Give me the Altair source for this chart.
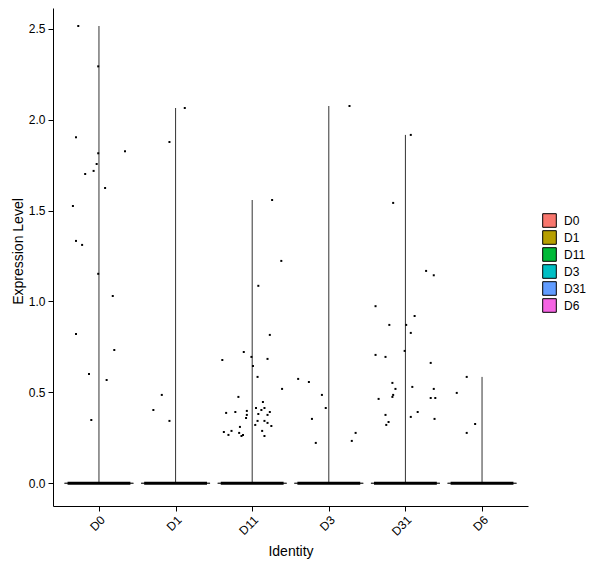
import altair as alt
import pandas as pd

groups = ["D0", "D1", "D11", "D3", "D31", "D6"]
colors = ["#F8766D", "#B79F00", "#00BA38", "#00BFC4", "#619CFF", "#F564E3"]

# non-zero expression values per identity, with their horizontal jitter (in category units)
d0_values = [2.515, 2.293, 1.903, 1.815, 1.826, 1.756, 1.718, 1.701, 1.624, 1.525,
             1.333, 1.311, 1.152, 1.030, 0.821, 0.733, 0.601, 0.568, 0.348]
d0_jitter = [-0.27, -0.01, -0.30, -0.01, 0.34, -0.03, -0.07, -0.18, 0.08, -0.34,
             -0.30, -0.22, -0.01, 0.18, -0.30, 0.20, -0.13, 0.10, -0.10]

d1_values = [2.064, 1.877, 0.486, 0.403, 0.343]
d1_jitter = [0.12, -0.08, -0.18, -0.29, -0.08]

d11_values = [1.558, 1.223, 1.086, 0.816, 0.722, 0.678, 0.695, 0.645, 0.684, 0.585,
              0.519, 0.475, 0.447, 0.414, 0.403, 0.414, 0.398, 0.387, 0.392, 0.392,
              0.376, 0.381, 0.376, 0.359, 0.343, 0.343, 0.332, 0.315, 0.321, 0.310,
              0.288, 0.288, 0.282, 0.277, 0.266, 0.266, 0.260, 0.260]
d11_jitter = [0.26, 0.38, 0.08, 0.23, -0.11, -0.39, -0.01, 0.01, 0.20, 0.07,
              0.39, -0.18, 0.14, 0.05, 0.12, 0.16, -0.07, -0.34, -0.22, 0.23,
              -0.07, 0.08, 0.20, -0.08, 0.07, 0.16, 0.20, 0.25, 0.04, -0.16,
              0.13, -0.27, -0.37, -0.17, -0.31, -0.12, -0.14, 0.16]

d3_values = [2.075, 0.574, 0.557, 0.486, 0.414, 0.354, 0.222, 0.277, 0.233]
d3_jitter = [0.27, -0.40, -0.26, -0.09, -0.04, -0.22, -0.17, 0.35, 0.30]

d31_values = [1.916, 1.542, 1.168, 1.144, 0.974, 0.920, 0.871, 0.871, 0.827, 0.728,
              0.706, 0.695, 0.662, 0.552, 0.519, 0.530, 0.519, 0.486, 0.475, 0.464,
              0.469, 0.469, 0.392, 0.365, 0.354, 0.376, 0.337, 0.321]
d31_jitter = [0.07, -0.16, 0.27, 0.37, -0.39, 0.12, -0.21, 0.01, 0.07, -0.01,
              -0.39, -0.26, 0.33, -0.17, -0.13, 0.09, 0.37, -0.16, -0.17, -0.35,
              0.33, 0.39, 0.16, 0.07, 0.38, -0.26, -0.22, -0.25]

d6_values = [0.497, 0.585, 0.326, 0.277]
d6_jitter = [-0.33, -0.20, -0.09, -0.20]

all_values = [d0_values, d1_values, d11_values, d3_values, d31_values, d6_values]
all_jitter = [d0_jitter, d1_jitter, d11_jitter, d3_jitter, d31_jitter, d6_jitter]

rows = []
for i, (g, vals, jit) in enumerate(zip(groups, all_values, all_jitter)):
    for v, j in zip(vals, jit):
        rows.append({"ident": g, "idx": i + 1, "jitter": j, "value": v})
points_df = pd.DataFrame(rows)

groups_df = pd.DataFrame({"ident": groups, "idx": list(range(1, len(groups) + 1)), "zero": 0.0})

VIOLIN_HALF = 0.45
JITTER_HALF = 0.41
FONT = "Liberation Sans"

label_expr = "[" + ",".join("'%s'" % g for g in groups) + "][datum.value - 1]"

x_scale = alt.Scale(domain=[0.4, 6.6], nice=False, zero=False)
y_scale = alt.Scale(domain=[-0.125, 2.614], nice=False, zero=False)

x_axis = alt.Axis(values=list(range(1, len(groups) + 1)), labelExpr=label_expr,
                  labelAngle=315, labelAlign="right", labelBaseline="top", labelPadding=3,
                  title="Identity", titleX=237.5, titleY=49, titleBaseline="alphabetic",
                  titleAlign="center", grid=False, tickSize=5)
y_axis = alt.Axis(values=[0, 0.5, 1.0, 1.5, 2.0, 2.5], format=".1f",
                  title="Expression Level", titleX=-31, titleY=243, titleAngle=270,
                  titleBaseline="alphabetic", titleAlign="center", grid=False,
                  tickSize=5, labelPadding=3)

base_g = alt.Chart(groups_df)

violin_base = base_g.mark_rect(stroke="#333333", strokeWidth=1).transform_calculate(
    x1="datum.idx - %f" % VIOLIN_HALF, x2="datum.idx + %f" % VIOLIN_HALF
).encode(
    x=alt.X("x1:Q", scale=x_scale, axis=x_axis),
    x2="x2:Q",
    y=alt.Y("zero:Q", scale=y_scale, axis=y_axis),
    y2="zero:Q",
    color=alt.Color("ident:N", scale=alt.Scale(domain=groups, range=colors),
                    legend=alt.Legend(title=None, orient="none", legendX=489, legendY=205,
                                      symbolType="square", symbolSize=185,
                                      symbolStrokeColor="black", symbolStrokeWidth=1,
                                      symbolOpacity=1,
                                      labelFontSize=12, labelFont=FONT, labelColor="black",
                                      labelOffset=7, rowPadding=-3.7, padding=0)),
)

vlines = alt.Chart(points_df).transform_aggregate(
    vmax="max(value)", groupby=["ident", "idx"]
).transform_calculate(zero="0").mark_rule(color="#333333", strokeWidth=1).encode(
    x=alt.X("idx:Q", scale=x_scale),
    y=alt.Y("zero:Q", scale=y_scale),
    y2="vmax:Q",
)

zero_band = base_g.mark_rule(color="black", strokeWidth=3).transform_calculate(
    x1="datum.idx - %f" % JITTER_HALF, x2="datum.idx + %f" % JITTER_HALF
).encode(
    x=alt.X("x1:Q", scale=x_scale),
    x2="x2:Q",
    y=alt.Y("zero:Q", scale=y_scale),
)

pts = alt.Chart(points_df).transform_calculate(
    xj="datum.idx + datum.jitter"
).mark_square(color="black", size=4, opacity=1).encode(
    x=alt.X("xj:Q", scale=x_scale),
    y=alt.Y("value:Q", scale=y_scale),
)

chart = alt.layer(violin_base, vlines, zero_band, pts).properties(
    width=475, height=498,
    autosize=alt.AutoSizeParams(type="none"),
    padding={"left": 45, "top": 0, "right": 60, "bottom": 56},
).configure_view(stroke=None).configure_axis(
    domainColor="black", domainWidth=1, tickColor="black", tickWidth=1,
    labelColor="black", titleColor="black", labelFont=FONT, titleFont=FONT,
    labelFontSize=12, titleFontSize=14, titleFontWeight="normal",
)

chart.save("out.html", embed_options={"renderer": "svg", "actions": False})
